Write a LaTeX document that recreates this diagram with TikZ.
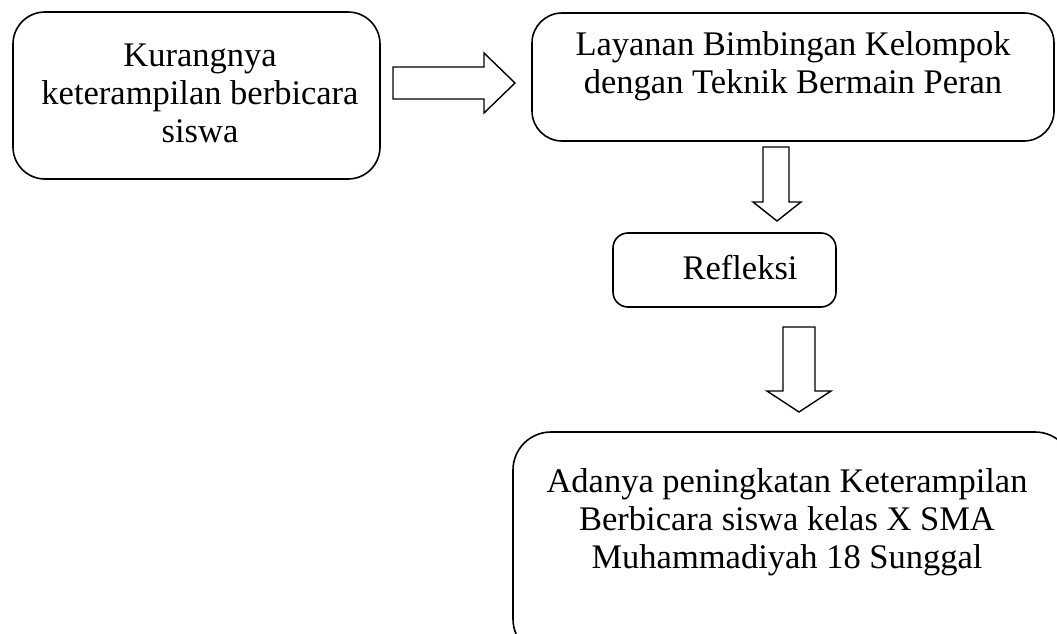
\documentclass[tikz,border=0pt]{standalone}
\usepackage{fontspec}
\setmainfont{Liberation Serif}
\begin{document}
\begin{tikzpicture}[x=1pt,y=-1pt,
  box/.style={draw=black, line width=1.6pt, rounded corners=#1, inner sep=0pt},
  txt/.style={align=center, font=\fontsize{34.5}{38}\selectfont, inner sep=0pt},
  blk/.style={draw=black, line width=1.4pt, fill=white, line join=miter}]
\useasboundingbox (0,0) rectangle (1057,634);
\begin{scope}
\clip (0,0) rectangle (1057,634);
% boxes
\node[box=32pt, minimum width=367pt, minimum height=167pt] (a) at (196.5,95.5) {};
\node[box=30pt, minimum width=522pt, minimum height=128pt] (b) at (793,77) {};
\node[box=15pt, minimum width=223pt, minimum height=74pt] (r) at (724.5,270) {};
\node[box=38pt, minimum width=560pt, minimum height=225pt] (d) at (793,544.5) {};
% texts
\node[txt] (ta) at (200,93) {Kurangnya\\keterampilan berbicara\\siswa};
\node[txt] (tb) at (793,66) {Layanan Bimbingan Kelompok\\dengan Teknik Bermain Peran};
\node[txt] (tr) at (740,268) {Refleksi};
\node[txt] (td) at (787,522) {Adanya peningkatan Keterampilan\\Berbicara siswa kelas X SMA\\Muhammadiyah 18 Sunggal};
% block arrows
\draw[blk] (393,67) -- (484,67) -- (484,53) -- (515,83) -- (484,113) -- (484,99) -- (393,99) -- cycle;
\draw[blk] (763,147) -- (789,147) -- (789,202) -- (801,202) -- (777,221) -- (753,202) -- (763,202) -- cycle;
\draw[blk] (783,327) -- (815,327) -- (815,391) -- (831,391) -- (799,412) -- (767,391) -- (783,391) -- cycle;
\end{scope}
\end{tikzpicture}
\end{document}
